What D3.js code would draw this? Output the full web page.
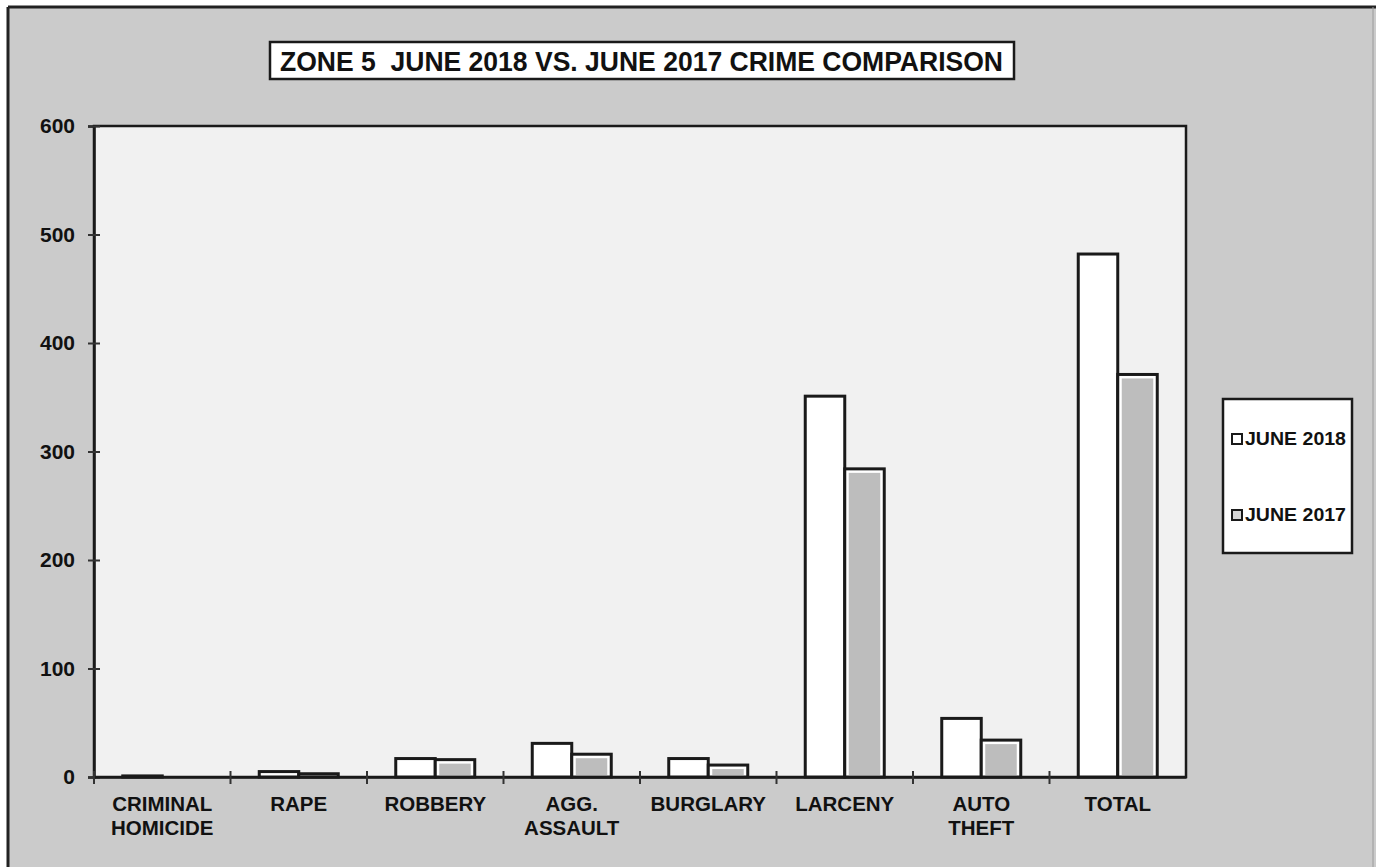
<!DOCTYPE html>
<html>
<head>
<meta charset="utf-8">
<script src="https://cdn.jsdelivr.net/npm/d3@7"></script>
<style>
  html, body { margin: 0; padding: 0; background: #ffffff; }
  svg { display: block; }
  text { font-family: "Liberation Sans", Arial, sans-serif; font-weight: bold; fill: #111; }
</style>
</head>
<body>
<svg id="chart" width="1376" height="867"></svg>
<script>
const categories = [["CRIMINAL", "HOMICIDE"], ["RAPE"], ["ROBBERY"], ["AGG.", "ASSAULT"], ["BURGLARY"], ["LARCENY"], ["AUTO", "THEFT"], ["TOTAL"]];
const seriesNames = ["JUNE 2018", "JUNE 2017"];
const june2018 = [1, 5, 17, 31, 17, 351, 54, 482];
const june2017 = [0, 3, 16, 21, 11, 284, 34, 371];
const yTicks = [0, 100, 200, 300, 400, 500, 600];
const titleText = "ZONE 5  JUNE 2018 VS. JUNE 2017 CRIME COMPARISON";

const svg = d3.select("#chart");
const W = 1376, H = 867;

// outer background
svg.append("rect").attr("x", 8).attr("y", 7).attr("width", W - 8).attr("height", H - 7).attr("fill", "#cbcbcb");
svg.append("line").attr("x1", 8).attr("x2", W).attr("y1", 7).attr("y2", 7).attr("stroke", "#222").attr("stroke-width", 3);
svg.append("line").attr("x1", 8).attr("x2", 8).attr("y1", 7).attr("y2", H).attr("stroke", "#222").attr("stroke-width", 3);
svg.append("line").attr("x1", W - 3).attr("x2", W - 3).attr("y1", 7).attr("y2", H).attr("stroke", "#9a9a9a").attr("stroke-width", 1);

const plot = { left: 94, right: 1186, top: 126, bottom: 777 };

const keys = categories.map(c => c.join(" "));
const x = d3.scaleBand().domain(keys).range([plot.left, plot.right]).padding(0);
const groupW = 79;
const x1 = d3.scaleBand().domain(seriesNames).range([0, groupW]).padding(0);
const y = d3.scaleLinear().domain([0, 600]).range([plot.bottom, plot.top]);

// plot area
svg.append("rect").attr("x", plot.left).attr("y", plot.top)
  .attr("width", plot.right - plot.left).attr("height", plot.bottom - plot.top)
  .attr("fill", "#f1f1f1").attr("stroke", "#1a1a1a").attr("stroke-width", 2.5);

const rows = keys.map((k, i) => ({ key: k, vals: [june2018[i], june2017[i]] }));

const g = svg.append("g");
rows.forEach(r => {
  const gx = x(r.key) + (x.bandwidth() - groupW) / 2;
  r.vals.forEach((v, j) => {
    const name = seriesNames[j];
    const bx = gx + x1(name), bw = x1.bandwidth();
    const top = y(v), h = y(0) - y(v);
    if (h <= 0) return;
    g.append("rect").attr("x", bx).attr("y", top).attr("width", bw).attr("height", h)
      .attr("fill", "#ffffff").attr("stroke", "#1a1a1a").attr("stroke-width", 3);
    if (j === 1 && h > 6) {
      g.append("rect").attr("x", bx + 4).attr("y", top + 4).attr("width", bw - 8).attr("height", h - 6)
        .attr("fill", "#bdbdbd");
    }
  });
});

// y axis
const yAxis = svg.append("g").attr("transform", `translate(${plot.left},0)`)
  .call(d3.axisLeft(y).tickValues(yTicks).tickSize(6).tickPadding(13));
yAxis.select(".domain").attr("stroke", "#1a1a1a").attr("stroke-width", 2.5);
yAxis.selectAll(".tick line").attr("x1", -6).attr("x2", 6).attr("stroke", "#333").attr("stroke-width", 2);
yAxis.selectAll(".tick text").attr("font-size", 21).attr("font-family", "Liberation Sans, Arial, sans-serif")
  .attr("font-weight", "bold").attr("fill", "#111").style("font-size", "21px");

// x axis
const xAxis = svg.append("g").attr("transform", `translate(0,${plot.bottom})`)
  .call(d3.axisBottom(x).tickSize(0).tickFormat(""));
xAxis.select(".domain").attr("stroke", "#1a1a1a").attr("stroke-width", 2.5);
const bounds = keys.map(k => x(k));
xAxis.selectAll(".bound").data(bounds).enter().append("line").attr("class", "bound")
  .attr("x1", d => d).attr("x2", d => d).attr("y1", -6).attr("y2", 7)
  .attr("stroke", "#333").attr("stroke-width", 2);

// category labels
categories.forEach((lines, i) => {
  const cx = x(keys[i]) + x.bandwidth() / 2;
  const t = svg.append("text").attr("x", cx).attr("y", 811).attr("text-anchor", "middle").attr("font-size", 20.5);
  lines.forEach((ln, li) => {
    t.append("tspan").attr("x", cx).attr("dy", li === 0 ? 0 : 24).text(ln);
  });
});

// title
svg.append("rect").attr("x", 270).attr("y", 42).attr("width", 744).attr("height", 37)
  .attr("fill", "#ffffff").attr("stroke", "#1a1a1a").attr("stroke-width", 2.5);
svg.append("text").attr("x", 280).attr("y", 71).attr("font-size", 27)
  .attr("textLength", 723).attr("lengthAdjust", "spacingAndGlyphs").attr("xml:space", "preserve")
  .style("white-space", "pre").text(titleText);

// legend
const lg = svg.append("g");
lg.append("rect").attr("x", 1223).attr("y", 399).attr("width", 129).attr("height", 154)
  .attr("fill", "#ffffff").attr("stroke", "#1a1a1a").attr("stroke-width", 2.5);
const legendY = [445, 521];
seriesNames.forEach((name, j) => {
  lg.append("rect").attr("x", 1232).attr("y", legendY[j] - 11).attr("width", 10).attr("height", 10)
    .attr("fill", j === 0 ? "#ffffff" : "#d6d6d6").attr("stroke", "#1a1a1a").attr("stroke-width", 2);
  lg.append("text").attr("x", 1245).attr("y", legendY[j]).attr("font-size", 17.5)
    .attr("textLength", 101).attr("lengthAdjust", "spacingAndGlyphs").text(name);
});
</script>
</body>
</html>
